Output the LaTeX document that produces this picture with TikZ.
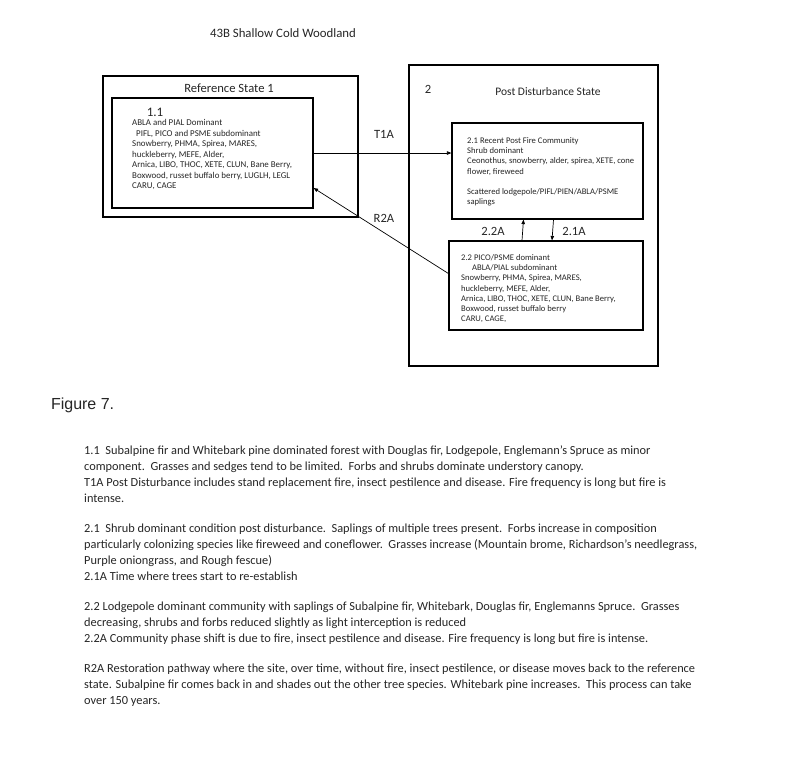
\documentclass[tikz,border=0pt]{standalone}
\usepackage{fontspec}
\setmainfont{Carlito}
\newfontfamily\figfont{Liberation Sans}
\usetikzlibrary{arrows.meta}

\begin{document}
\begin{tikzpicture}[x=1pt,y=-1pt,
  state/.style={draw,line width=1.6pt,inner sep=0pt},
  phase/.style={draw,line width=1.2pt,inner sep=0pt},
  species/.style={anchor=north west,inner sep=0pt,font=\fontsize{8.6}{10.3}\selectfont},
  lbl/.style={font=\fontsize{12.6}{14}\selectfont},
  jump/.style={-{Triangle[length=4.5pt,width=3.5pt]},line width=0.7pt},
  every node/.style={align=left,text=black!85}]

\useasboundingbox[fill=white] (0,0) rectangle (800,756);

%title
    \node[font=\fontsize{12.8}{14}\selectfont] (title) at (283,33) {43B Shallow Cold Woodland};

%reference state
    \node[state,minimum width=255pt,minimum height=141pt] (ref) at (230.5,146.5) {};
    \node[lbl] (refname) at (229,88) {Reference State 1};
    \node[phase,minimum width=201pt,minimum height=110pt] (b11) at (212.5,153) {};
    \node[font=\fontsize{13}{14}\selectfont] (n11) at (155,112) {1.1};
    \node[species,font=\fontsize{8.9}{10.5}\selectfont] (t11) at (132,119.5) {ABLA and PIAL Dominant\\
      \hspace*{4pt}PIFL, PICO and PSME subdominant\\
      Snowberry, PHMA, Spirea, MARES,\\
      huckleberry, MEFE, Alder,\\
      Arnica, LIBO, THOC, XETE, CLUN, Bane Berry,\\
      Boxwood, russet buffalo berry, LUGLH, LEGL\\
      CARU, CAGE};

%post disturbance state
    \node[state,minimum width=249pt,minimum height=301pt] (post) at (533.5,215.5) {};
    \node[lbl] (n2) at (428,89) {2};
    \node[font=\fontsize{11.5}{13}\selectfont] (postname) at (548,92) {Post Disturbance State};
    \node[phase,minimum width=191pt,minimum height=96pt] (b21) at (547.5,171) {};
    \node[species] (t21) at (467,137) {2.1 Recent Post Fire Community\\
      Shrub dominant\\
      Ceonothus, snowberry, alder, spirea, XETE, cone\\
      flower, fireweed\\[10.3pt]
      Scattered lodgepole/PIFL/PIEN/ABLA/PSME\\
      saplings};
    \node[phase,minimum width=194pt,minimum height=89pt] (b22) at (546,285.5) {};
    \node[species] (t22) at (461,254) {2.2 PICO/PSME dominant\\
      \hspace*{11pt}ABLA/PIAL subdominant\\
      Snowberry, PHMA, Spirea, MARES,\\
      huckleberry, MEFE, Alder,\\
      Arnica, LIBO, THOC, XETE, CLUN, Bane Berry,\\
      Boxwood, russet buffalo berry\\
      CARU, CAGE,};

%draw transitions
    \draw[jump] (b11.east) -- (b11.east -| b21.west);
    \draw[jump] ([yshift=12pt]b22.west) -- ([yshift=-35pt]b11.east);
    \foreach \dx/\a/\b in {-24/b22.north/b21.south, 6/b21.south/b22.north}
    \draw[jump] ([xshift=\dx pt]\a) -- ([xshift=\dx pt]\b);
    \node[lbl] (t1a) at (384,134) {T1A};
    \node[lbl] (r2a) at (384,218) {R2A};
    \node[lbl] (p22a) at (493,231) {2.2A};
    \node[lbl] (p21a) at (574,231) {2.1A};

%caption and notes
    \node[anchor=west,font=\figfont\fontsize{16}{18}\selectfont] (fig) at (47.5,405) {Figure 7.};
    \node[anchor=north west,inner sep=0pt,font=\fontsize{12.35}{16}\selectfont] (notes) at (84,446) {%
      1.1\ \ Subalpine fir and Whitebark pine dominated forest with Douglas fir, Lodgepole, Englemann’s Spruce as minor\\
      component.\ \ Grasses and sedges tend to be limited.\ \ Forbs and shrubs dominate understory canopy.\\
      T1A Post Disturbance includes stand replacement fire, insect pestilence and disease. Fire frequency is long but fire is\\
      intense.\\[14pt]
      2.1\ \ Shrub dominant condition post disturbance.\ \ Saplings of multiple trees present.\ \ Forbs increase in composition\\
      particularly colonizing species like fireweed and coneflower.\ \ Grasses increase (Mountain brome, Richardson’s needlegrass,\\
      Purple oniongrass, and Rough fescue)\\
      2.1A Time where trees start to re-establish\\[14pt]
      2.2 Lodgepole dominant community with saplings of Subalpine fir, Whitebark, Douglas fir, Englemanns Spruce.\ \ Grasses\\
      decreasing, shrubs and forbs reduced slightly as light interception is reduced\\
      2.2A Community phase shift is due to fire, insect pestilence and disease. Fire frequency is long but fire is intense.\\[14pt]
      R2A Restoration pathway where the site, over time, without fire, insect pestilence, or disease moves back to the reference\\
      state. Subalpine fir comes back in and shades out the other tree species. Whitebark pine increases.\ \ This process can take\\
      over 150 years.};

\end{tikzpicture}
\end{document}
